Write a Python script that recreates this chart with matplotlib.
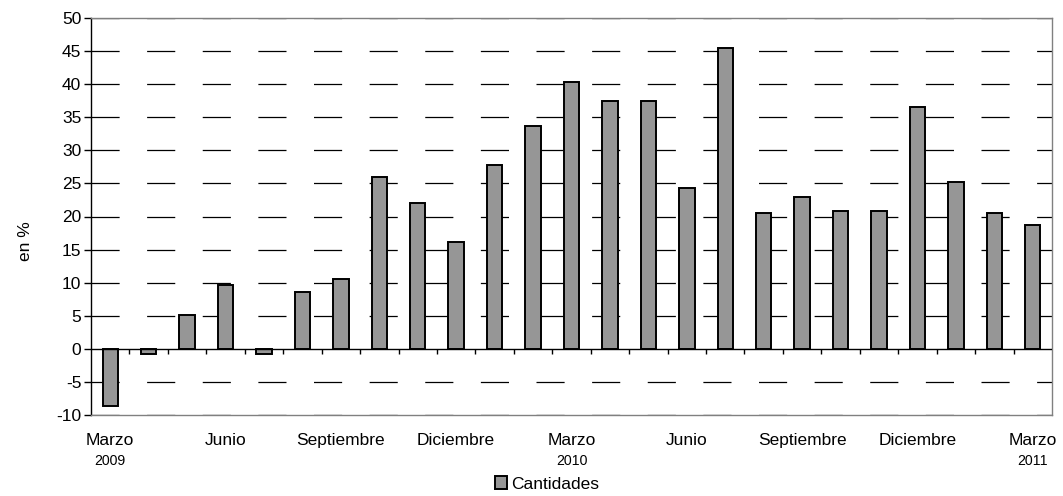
import matplotlib
matplotlib.use("Agg")
import matplotlib.pyplot as plt
from matplotlib.patches import Patch
import numpy as np

plt.rcParams["font.family"] = ["Liberation Sans", "DejaVu Sans"]
plt.rcParams["axes.unicode_minus"] = False

# monthly data, Marzo 2009 .. Marzo 2011
values = [-8.7, -0.8, 5.1, 9.7, -0.8, 8.6, 10.6, 26.0, 22.0, 16.1, 27.8, 33.7,
          40.4, 37.5, 37.5, 24.3, 45.5, 20.6, 22.9, 20.8, 20.8, 36.6, 25.2, 20.6, 18.7]
month_labels = ["Marzo", "Junio", "Septiembre", "Diciembre", "Marzo", "Junio",
                "Septiembre", "Diciembre", "Marzo"]
year_labels = {0: "2009", 12: "2010", 24: "2011"}
yticks = list(range(-10, 55, 5))

x = np.arange(len(values))

fig = plt.figure(figsize=(10.63, 4.96), dpi=100)
ax = fig.add_axes([91 / 1063, 1 - 415 / 496, (1052 - 91) / 1063, (415 - 18) / 496])

# dashed horizontal grid
for yv in yticks:
    if yv == 0:
        continue
    ax.axhline(yv, color="black", lw=0.9, linestyle=(0, (22.5, 22.0)), zorder=1)

ax.bar(x, values, width=0.4, color="#969696", edgecolor="black", linewidth=1.4, zorder=3)

# zero line with small ticks between categories
ax.axhline(0, color="black", lw=1.0, zorder=4)
bounds = np.arange(len(values) + 1) - 0.5
ax.vlines(bounds[1:-1], -0.75, 0, color="black", lw=1.0, zorder=4)

ax.set_xlim(-0.5, len(values) - 0.5)
ax.set_ylim(-10, 50)
ax.set_yticks(yticks)
ax.tick_params(axis="y", direction="out", length=5, width=1, labelsize=12.5, pad=2)

ax.set_xticks(x[::3])
ax.set_xticklabels(month_labels)
ax.tick_params(axis="x", length=0, labelsize=12.5, pad=13)

for s in ["top", "bottom", "right"]:
    ax.spines[s].set_color("#808080")
    ax.spines[s].set_linewidth(1.0)
ax.spines["left"].set_color("black")
ax.spines["left"].set_linewidth(1.0)

trans = ax.get_xaxis_transform()
for i, yr in year_labels.items():
    ax.text(i, -0.117, yr, transform=trans, ha="center", va="center", fontsize=10.2)

fig.text(25 / 1063, 1 - 241 / 496, "en %", rotation=90, ha="center", va="center",
         fontsize=12.5)

handle = Patch(facecolor="#969696", edgecolor="black", linewidth=1.4)
fig.legend([handle], ["Cantidades"], loc="center", bbox_to_anchor=(547 / 1063, 1 - 484 / 496),
           frameon=False, fontsize=12.5, handlelength=0.7, handleheight=0.7,
           handletextpad=0.2, borderpad=0.1)

fig.savefig("out.png", dpi=100)
